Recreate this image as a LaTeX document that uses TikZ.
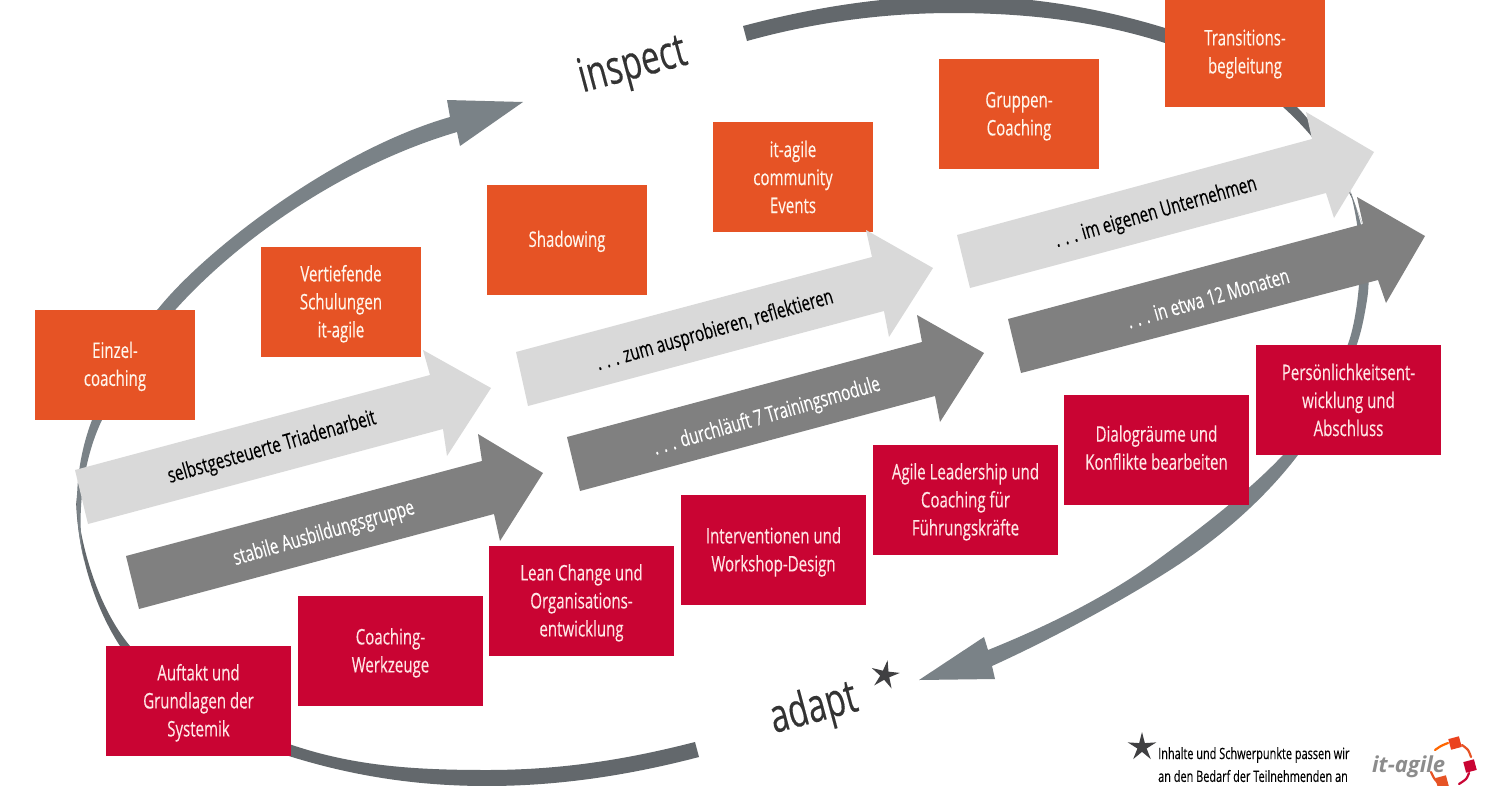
\documentclass[tikz,border=0pt]{standalone}
\usepackage{fontspec}
\setmainfont{Open Sans}[FakeStretch=0.70,FakeBold=0.25]
\newfontfamily\logofont{Open Sans}
\usetikzlibrary{shapes.geometric}
\definecolor{orangebox}{HTML}{E65325}
\definecolor{redbox}{HTML}{C90433}
\definecolor{lightarrow}{HTML}{D9D9D9}
\definecolor{darkarrow}{HTML}{808080}
\definecolor{swooshA}{HTML}{7A8287}
\definecolor{swooshB}{HTML}{63686C}
\definecolor{starcol}{HTML}{404042}
\newcommand\firstlinefix{\rule{0pt}{20pt}}
\newcommand\lastlinefix{\rule[-5pt]{0pt}{1pt}}
\tikzset{
 orangenode/.style={fill=orangebox,text=white!92!orange,inner sep=0pt,minimum width=160pt,minimum height=110pt,align=center,font=\fontsize{21.5}{28}\selectfont},
 rednode/.style={fill=redbox,text=white!90!red,inner sep=0pt,minimum width=185pt,minimum height=110pt,align=center,font=\fontsize{21.5}{28}\selectfont},
 lightlabel/.style={rotate=16,text=black,inner sep=0pt,font=\fontsize{21.6}{24}\selectfont},
 darklabel/.style={rotate=16,text=white,inner sep=0pt,font=\fontsize{21.6}{24}\selectfont},
 biglabel/.style={rotate=15,text=black!80,inner sep=0pt,font=\fontsize{47}{50}\selectfont},
 starnode/.style={star,star points=5,star point ratio=3.1,fill=starcol,inner sep=0pt},
 notetext/.style={anchor=west,inner sep=0pt,text=black,font=\fontsize{15.6}{20}\selectfont},
 logoarc/.style={draw=#1,line width=2.2pt,line cap=round},
 logosquare/.style={fill=#1,inner sep=0pt,minimum size=11pt,rotate=15},
}
\begin{document}
\begin{tikzpicture}[x=1pt,y=-1pt]
\useasboundingbox (0,0) rectangle (1500,785);
\clip (0,0) rectangle (1500,785);
\fill[white] (0,0) rectangle (1500,785);

% swooshes
\fill[swooshB] (76,495) .. controls (76,540) and (90,600) .. (120,646)
  .. controls (160,700) and (227,737) .. (292,757)
  .. controls (357,777) and (420,786) .. (487,786)
  .. controls (560,786) and (630,775) .. (699,757)
  -- (695,742) .. controls (625,760) and (560,770) .. (487,770)
  .. controls (420,770) and (357,767) .. (292,745)
  .. controls (227,723) and (170,695) .. (130,646)
  .. controls (100,610) and (80,550) .. (76,495) -- cycle;
\fill[swooshA] (84,560) .. controls (74,520) and (73,470) .. (92,420)
  .. controls (108,380) and (130,335) .. (158,309)
  .. controls (205,250) and (335,150) .. (450,117)
  -- (447,100) -- (523,102) -- (460,146) -- (457,132)
  .. controls (345,165) and (240,238) .. (176,309)
  .. controls (145,345) and (120,385) .. (102,420)
  .. controls (85,455) and (75,510) .. (84,560) -- cycle;
\fill[swooshB] (743,26) .. controls (815,7) and (885,-4) .. (958,-4)
  .. controls (1030,-4) and (1100,8) .. (1165,28)
  .. controls (1215,43) and (1265,75) .. (1297,107)
  .. controls (1325,135) and (1347,180) .. (1363,226)
  .. controls (1350,185) and (1320,140) .. (1283,107)
  .. controls (1250,80) and (1210,60) .. (1165,43)
  .. controls (1100,22) and (1030,13) .. (953,13)
  .. controls (885,13) and (815,22) .. (747,41) -- cycle;
\fill[swooshA] (1350,190) .. controls (1365,230) and (1372,270) .. (1367,300)
  .. controls (1363,325) and (1360,335) .. (1357,344)
  .. controls (1340,390) and (1320,425) .. (1298,455)
  .. controls (1260,505) and (1210,545) .. (1167,572)
  .. controls (1115,605) and (1045,642) .. (992,666)
  -- (995,679) -- (919,680) -- (984,637) -- (988,650)
  .. controls (1050,625) and (1110,595) .. (1160,558)
  .. controls (1205,525) and (1250,490) .. (1283,455)
  .. controls (1310,425) and (1335,380) .. (1348,344)
  .. controls (1355,325) and (1360,290) .. (1360,260)
  .. controls (1360,235) and (1355,210) .. (1350,190) -- cycle;

% boxes
\node[orangenode] (b1) at (115,364.5) {\firstlinefix Einzel-\\coaching};
\node[orangenode] (b2) at (341,302) {\firstlinefix Vertiefende\\Schulungen\\it-agile};
\node[orangenode] (b3) at (567,239.5) {\firstlinefix Shadowing};
\node[orangenode] (b4) at (793,177) {it-agile\\community\\Events};
\node[orangenode] (b5) at (1019,114) {\firstlinefix Gruppen-\\Coaching};
\node[orangenode] (b6) at (1245,52) {\firstlinefix Transitions-\\begleitung};
\node[rednode] (r1) at (198.5,701) {\firstlinefix Auftakt und\\Grundlagen der\\Systemik};
\node[rednode] (r2) at (390.5,651) {\firstlinefix Coaching-\\Werkzeuge};
\node[rednode] (r3) at (581.5,601) {\firstlinefix Lean Change und\\Organisations-\\entwicklung};
\node[rednode] (r4) at (773.5,550) {\firstlinefix Interventionen und\\Workshop-Design};
\node[rednode] (r5) at (965.5,500) {\firstlinefix Agile Leadership und\\Coaching für\\Führungskräfte};
\node[rednode] (r6) at (1156.5,450) {Dialogräume und\\Konflikte bearbeiten\lastlinefix};
\node[rednode] (r7) at (1348.5,400) {Persönlichkeitsent-\\wicklung und\\Abschluss};

% block arrows
\fill[lightarrow] (75,470) -- (430,375) -- (423,350) -- (491,388) -- (447,456) -- (443,429) -- (88,524) -- cycle;
\fill[darkarrow] (126,556) -- (482,461) -- (478,434) -- (543,473) -- (500,541) -- (494,514) -- (139,609) -- cycle;
\fill[lightarrow] (516,352) -- (872,257) -- (866,230) -- (933,268) -- (889,337) -- (884,311) -- (528,406) -- cycle;
\fill[darkarrow] (567,437) -- (922,342) -- (917,315) -- (984,353) -- (940,422) -- (935,396) -- (580,491) -- cycle;
\fill[lightarrow] (957,235) -- (1312,139) -- (1306,112) -- (1374,152) -- (1334,218) -- (1326,193) -- (970,288) -- cycle;
\fill[darkarrow] (1008,319) -- (1363,224) -- (1357,197) -- (1425,236) -- (1386,303) -- (1378,280) -- (1021,373) -- cycle;

\node[lightlabel] (t1) at (272,448) {selbstgesteuerte Triadenarbeit};
\node[darklabel] (t2) at (324,534) {stabile Ausbildungsgruppe};
\node[lightlabel] (t3) at (715,331) {. . . zum ausprobieren, reflektieren};
\node[darklabel] (t4) at (767,417) {. . . durchläuft 7 Trainingsmodule};
\node[lightlabel] (t5) at (1156,213) {. . . im eigenen Unternehmen};
\node[darklabel] (t6) at (1208,298) {. . . in etwa 12 Monaten};

\node[biglabel] (inspect) at (633,67) {inspect};
\node[biglabel] (adapt) at (814,710) {adapt};
\node[starnode,minimum size=30pt,rotate=-10] (star1) at (885,675) {};
\node[starnode,minimum size=30pt] (star2) at (1142,747) {};
\node[notetext] (n1) at (1158,755) {Inhalte und Schwerpunkte passen wir};
\node[notetext] (n2) at (1158,776) {an den Bedarf der Teilnehmenden an};

% logo
\node[inner sep=0pt,anchor=base west,text=black!45,font=\logofont\bfseries\itshape\fontsize{22}{24}\selectfont] (logotext) at (1372,772) {it-agile};
\draw[logoarc=orange!80!red] plot[smooth] coordinates {(1435,750) (1441,746) (1448,743)};
\draw[logoarc=orangebox] plot[smooth] coordinates {(1462,745) (1468,750) (1471,757)};
\draw[logoarc=redbox] plot[smooth] coordinates {(1469,773) (1466,779) (1459,784)};
\draw[logoarc=orangebox] plot[smooth] coordinates {(1431,772) (1434,778) (1438,783)};
\node[logosquare=orangebox!80!red] (s1) at (1455,743) {};
\node[logosquare=redbox] (s2) at (1470,766) {};
\node[logosquare=orangebox] (s3) at (1442,782) {};
\end{tikzpicture}
\end{document}
